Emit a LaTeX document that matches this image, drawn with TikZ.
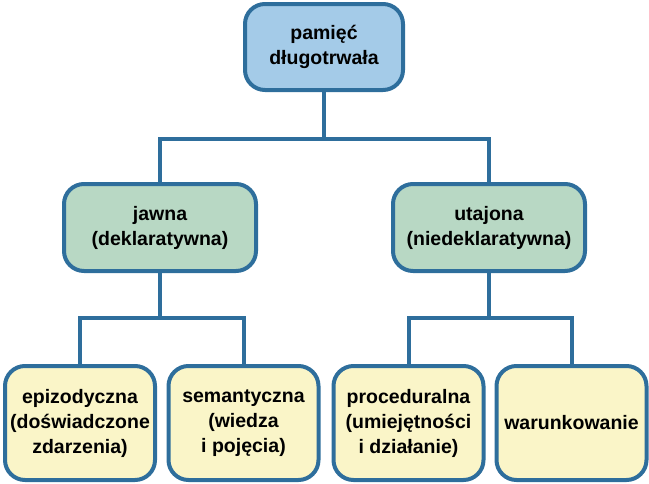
\documentclass[tikz,border=0pt]{standalone}
\usepackage{fontspec}
\setmainfont{Liberation Sans}
\usetikzlibrary{positioning}

\definecolor{bordo}{RGB}{46,110,156}
\definecolor{celeste}{RGB}{164,203,232}
\definecolor{verde}{RGB}{184,216,196}
\definecolor{giallo}{RGB}{250,245,200}

\tikzset{
  scatola/.style={draw=bordo, line width=4pt, rounded corners=20pt, align=center,
    font=\fontsize{19.5}{25}\selectfont\bfseries, inner sep=2pt},
  cima/.style={scatola, fill=celeste, minimum width=158pt, minimum height=86pt},
  medio/.style={scatola, fill=verde, minimum width=192pt, minimum height=87pt},
  fondo/.style={scatola, fill=giallo, minimum width=150pt, minimum height=114pt},
  ramo/.style={draw=bordo, line width=4pt}
}

\begin{document}
\begin{tikzpicture}[x=1pt,y=-1pt]
\useasboundingbox (0,0) rectangle (649,483);

\node[cima] (pamiec) at (324,47) {pamięć\\długotrwała};

\node[medio] (jawna) at (160,227.5) {jawna\\(deklaratywna)};
\node[medio] (utajona) at (489,227.5) {utajona\\(niedeklaratywna)};

\node[fondo] (epizod) at (80,423) {epizodyczna\\(doświadczone\\zdarzenia)};
\node[fondo] (seman) at (243.5,423) {semantyczna\\(wiedza\\i pojęcia)};
\node[fondo] (proced) at (408.5,423) {proceduralna\\(umiejętności\\i działanie)};
\node[fondo] (warunk) at (571.5,423) {warunkowanie};

% rami
\coordinate (g0) at (324,139);
\coordinate (g1) at (160,318);
\coordinate (g2) at (489,318);

\draw[ramo] (pamiec) -- (g0) -| (jawna);
\draw[ramo] (g0) -| (utajona);
\draw[ramo] (jawna) -- (g1) -| (epizod);
\draw[ramo] (g1) -| (seman);
\draw[ramo] (utajona) -- (g2) -| (proced);
\draw[ramo] (g2) -| (warunk);

\end{tikzpicture}
\end{document}
